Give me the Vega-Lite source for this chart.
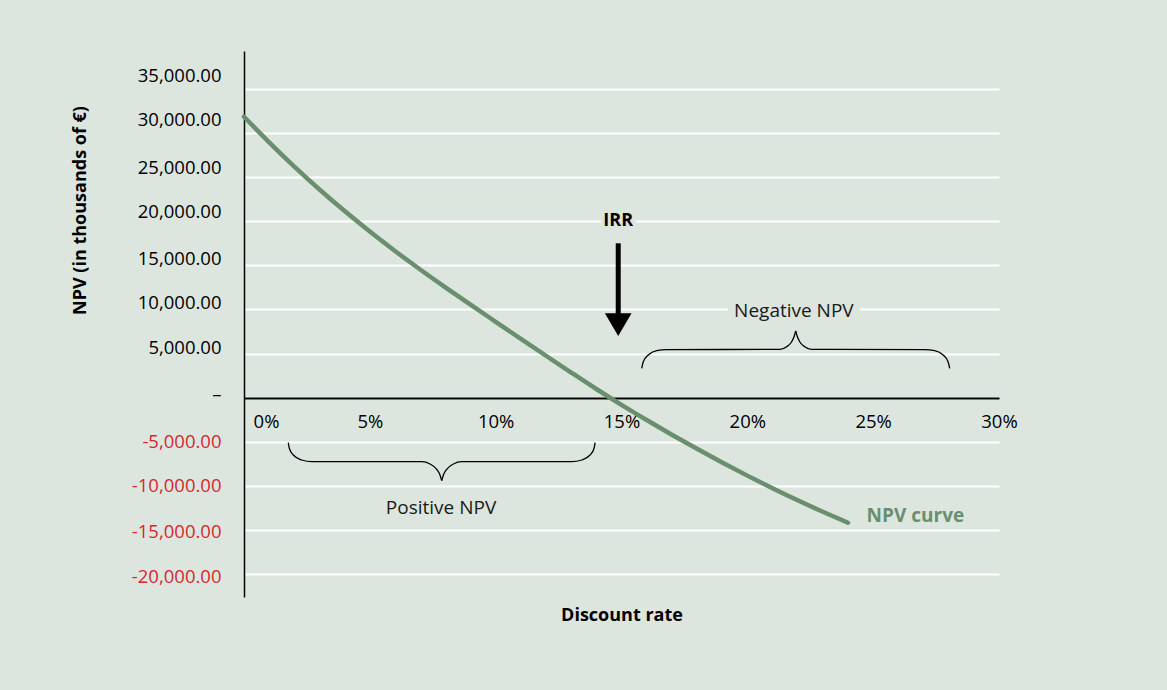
{
  "$schema": "https://vega.github.io/schema/vega-lite/v6.json",
  "width": 755,
  "height": 546,
  "autosize": {"type": "none"},
  "padding": {"left": 244, "top": 51, "right": 168, "bottom": 93},
  "background": "#dde6de",
  "config": {"view": {"stroke": null}, "font": "Open Sans"},
  "datasets": {
    "npv": [
      {"rate": 0.00, "npv": 31850}, {"rate": 0.01, "npv": 28950}, {"rate": 0.02, "npv": 26200},
      {"rate": 0.03, "npv": 23600}, {"rate": 0.04, "npv": 21150}, {"rate": 0.05, "npv": 18830},
      {"rate": 0.06, "npv": 16630}, {"rate": 0.07, "npv": 14530}, {"rate": 0.08, "npv": 12510},
      {"rate": 0.09, "npv": 10540}, {"rate": 0.10, "npv": 8600}, {"rate": 0.11, "npv": 6670},
      {"rate": 0.12, "npv": 4750}, {"rate": 0.13, "npv": 2850}, {"rate": 0.14, "npv": 980},
      {"rate": 0.15, "npv": -820}, {"rate": 0.16, "npv": -2540}, {"rate": 0.17, "npv": -4200},
      {"rate": 0.18, "npv": -5800}, {"rate": 0.19, "npv": -7350}, {"rate": 0.20, "npv": -8840},
      {"rate": 0.21, "npv": -10270}, {"rate": 0.22, "npv": -11640}, {"rate": 0.23, "npv": -12940},
      {"rate": 0.24, "npv": -14180}
    ],
    "braces": [
      {"seg": "neg-left", "rate": 0.15802, "npv": 3327},
      {"seg": "neg-left", "rate": 0.15866, "npv": 4076},
      {"seg": "neg-left", "rate": 0.16065, "npv": 4835},
      {"seg": "neg-left", "rate": 0.16399, "npv": 5323},
      {"seg": "neg-left", "rate": 0.16796, "npv": 5436},
      {"seg": "neg-left", "rate": 0.21298, "npv": 5481},
      {"seg": "neg-left", "rate": 0.21564, "npv": 5776},
      {"seg": "neg-left", "rate": 0.21763, "npv": 6343},
      {"seg": "neg-left", "rate": 0.21866, "npv": 6989},
      {"seg": "neg-left", "rate": 0.21922, "npv": 7556},
      {"seg": "neg-right", "rate": 0.21922, "npv": 7556},
      {"seg": "neg-right", "rate": 0.21978, "npv": 6989},
      {"seg": "neg-right", "rate": 0.22081, "npv": 6343},
      {"seg": "neg-right", "rate": 0.22280, "npv": 5776},
      {"seg": "neg-right", "rate": 0.22545, "npv": 5481},
      {"seg": "neg-right", "rate": 0.27047, "npv": 5436},
      {"seg": "neg-right", "rate": 0.27445, "npv": 5323},
      {"seg": "neg-right", "rate": 0.27778, "npv": 4835},
      {"seg": "neg-right", "rate": 0.27977, "npv": 4076},
      {"seg": "neg-right", "rate": 0.28041, "npv": 3327},
      {"seg": "pos-left", "rate": 0.01760, "npv": -5107},
      {"seg": "pos-left", "rate": 0.01800, "npv": -5742},
      {"seg": "pos-left", "rate": 0.01959, "npv": -6502},
      {"seg": "pos-left", "rate": 0.02293, "npv": -7069},
      {"seg": "pos-left", "rate": 0.02690, "npv": -7261},
      {"seg": "pos-left", "rate": 0.07061, "npv": -7261},
      {"seg": "pos-left", "rate": 0.07391, "npv": -7522},
      {"seg": "pos-left", "rate": 0.07657, "npv": -8123},
      {"seg": "pos-left", "rate": 0.07788, "npv": -8770},
      {"seg": "pos-left", "rate": 0.07856, "npv": -9415},
      {"seg": "pos-right", "rate": 0.07856, "npv": -9415},
      {"seg": "pos-right", "rate": 0.07923, "npv": -8770},
      {"seg": "pos-right", "rate": 0.08054, "npv": -8123},
      {"seg": "pos-right", "rate": 0.08320, "npv": -7522},
      {"seg": "pos-right", "rate": 0.08650, "npv": -7261},
      {"seg": "pos-right", "rate": 0.13021, "npv": -7261},
      {"seg": "pos-right", "rate": 0.13418, "npv": -7069},
      {"seg": "pos-right", "rate": 0.13752, "npv": -6502},
      {"seg": "pos-right", "rate": 0.13911, "npv": -5742},
      {"seg": "pos-right", "rate": 0.13951, "npv": -5107}
    ]
  },
  "layer": [
    {
      "data": {"name": "npv"},
      "mark": {"type": "line", "color": "#6a8f6f", "strokeWidth": 4.5, "strokeCap": "round", "interpolate": "monotone"},
      "encoding": {
        "x": {
          "field": "rate", "type": "quantitative",
          "scale": {"domain": [0, 0.3], "nice": false, "zero": false},
          "axis": {
            "title": "Discount rate",
            "values": [0, 0.05, 0.1, 0.15, 0.2, 0.25, 0.3],
            "format": ".0%",
            "offset": -199,
            "grid": false,
            "ticks": false,
            "domainColor": "black",
            "domainWidth": 2,
            "labelPadding": 14,
            "labelFontSize": 18.5,
            "labelColor": "black",
            "labelFlush": false,
            "labelOverlap": false,
            "labelOffset": {"condition": {"test": "datum.value == 0", "value": 22}, "value": 0},
            "titleFontSize": 18,
            "titleFontWeight": "bold",
            "titleColor": "black",
            "titlePadding": 176
          }
        },
        "y": {
          "field": "npv", "type": "quantitative",
          "scale": {"domain": [-22600, 39300], "nice": false, "zero": false},
          "axis": {
            "title": "NPV (in thousands of €)",
            "values": [-20000, -15000, -10000, -5000, 0, 5000, 10000, 15000, 20000, 25000, 30000, 35000],
            "labelExpr": "datum.value == 0 ? '–' : (datum.value < 0 ? '-' : '') + format(abs(datum.value), ',.2f')",
            "labelColor": {"condition": {"test": "datum.value < 0", "value": "#d7282f"}, "value": "black"},
            "labelOffset": {"condition": [
              {"test": "datum.value >= 30000", "value": -13.5},
              {"test": "datum.value >= 20000", "value": -9.5},
              {"test": "datum.value >= 5000", "value": -6.5},
              {"test": "datum.value == 0", "value": -3},
              {"test": "datum.value >= -10000", "value": -0.5}
            ], "value": 2},
            "grid": true,
            "gridColor": "white",
            "gridWidth": 2,
            "gridOpacity": 1,
            "ticks": false,
            "domainColor": "black",
            "domainWidth": 1.5,
            "labelPadding": 23,
            "labelFontSize": 18.5,
            "labelOverlap": false,
            "labelFlush": false,
            "titleFontSize": 18,
            "titleFontWeight": "bold",
            "titleColor": "black",
            "titleAngle": -90,
            "titleAlign": "center",
            "titleBaseline": "middle",
            "titleX": -164,
            "titleY": 159
          }
        }
      }
    },
    {
      "data": {"values": [
        {"r1": 0.1419, "r2": 0.1558, "v1": 19120, "v2": 21728},
        {"r1": 0.1923, "r2": 0.2448, "v1": 8803, "v2": 11411}
      ]},
      "mark": {"type": "rect", "color": "#dde6de"},
      "encoding": {
        "x": {"field": "r1", "type": "quantitative"},
        "x2": {"field": "r2"},
        "y": {"field": "v1", "type": "quantitative"},
        "y2": {"field": "v2"}
      }
    },
    {
      "data": {"name": "braces"},
      "mark": {"type": "line", "color": "black", "strokeWidth": 1.3, "interpolate": "monotone"},
      "encoding": {
        "x": {"field": "rate", "type": "quantitative"},
        "y": {"field": "npv", "type": "quantitative"},
        "detail": {"field": "seg"}
      }
    },
    {
      "data": {"values": [{"rate": 0.1487, "top": 17499, "bottom": 9030}]},
      "mark": {"type": "rule", "color": "black", "strokeWidth": 5},
      "encoding": {
        "x": {"field": "rate", "type": "quantitative"},
        "y": {"field": "top", "type": "quantitative"},
        "y2": {"field": "bottom"}
      }
    },
    {
      "data": {"values": [{"rate": 0.1487, "npv": 8270}]},
      "mark": {"type": "point", "filled": true, "color": "black", "opacity": 1, "strokeWidth": 0, "size": 713, "shape": "M-1,-0.85L1,-0.85L0,0.85Z"},
      "encoding": {
        "x": {"field": "rate", "type": "quantitative"},
        "y": {"field": "npv", "type": "quantitative"}
      }
    },
    {
      "data": {"values": [{"rate": 0.1487, "npv": 19460, "label": "IRR"}]},
      "mark": {"type": "text", "fontSize": 18, "fontWeight": "bold", "color": "black", "align": "center", "baseline": "alphabetic"},
      "encoding": {
        "x": {"field": "rate", "type": "quantitative"},
        "y": {"field": "npv", "type": "quantitative"},
        "text": {"field": "label"}
      }
    },
    {
      "data": {"values": [
        {"rate": 0.2185, "npv": 9177, "label": "Negative NPV"},
        {"rate": 0.0783, "npv": -13191, "label": "Positive NPV"}
      ]},
      "mark": {"type": "text", "fontSize": 19, "color": "#1a1a1a", "align": "center", "baseline": "alphabetic"},
      "encoding": {
        "x": {"field": "rate", "type": "quantitative"},
        "y": {"field": "npv", "type": "quantitative"},
        "text": {"field": "label"}
      }
    },
    {
      "data": {"values": [{"rate": 0.2474, "npv": -14064, "label": "NPV curve"}]},
      "mark": {"type": "text", "fontSize": 19, "fontWeight": "bold", "color": "#6a8f6f", "align": "left", "baseline": "alphabetic"},
      "encoding": {
        "x": {"field": "rate", "type": "quantitative"},
        "y": {"field": "npv", "type": "quantitative"},
        "text": {"field": "label"}
      }
    }
  ]
}
